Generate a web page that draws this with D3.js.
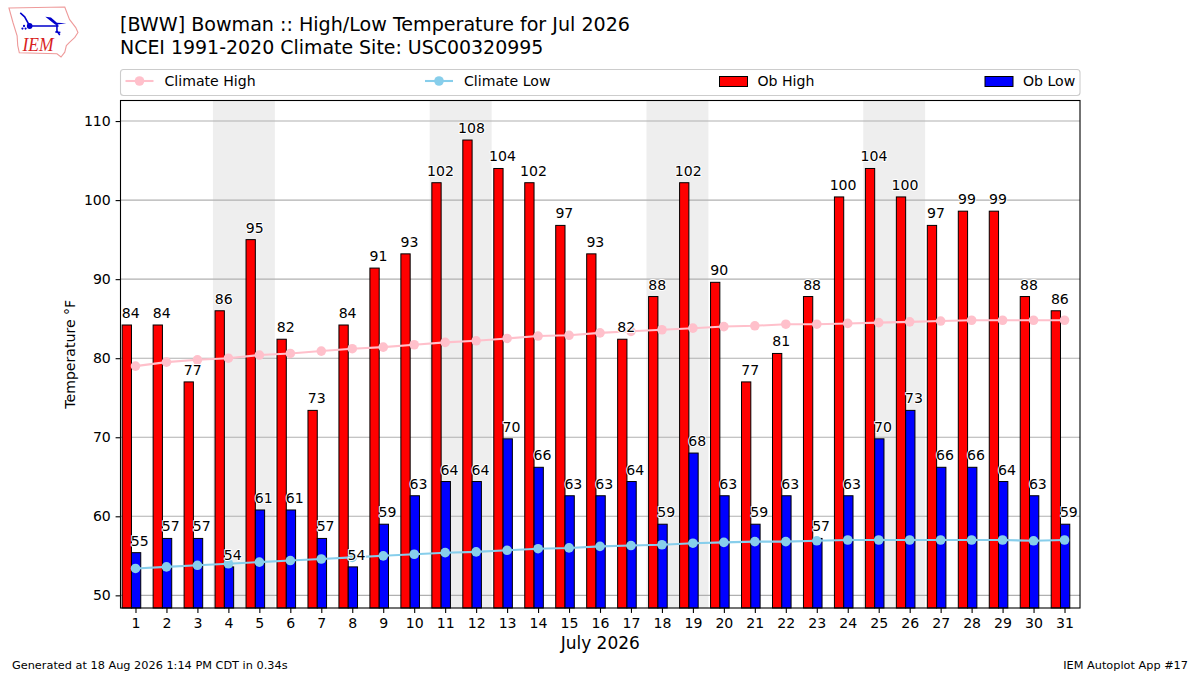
<!DOCTYPE html>
<html>
<head>
<meta charset="utf-8">
<script src="https://cdn.jsdelivr.net/npm/d3@7"></script>
<style>
    html, body { margin: 0; padding: 0; background: #fff; }
    svg { display: block; }
    text { font-family: "DejaVu Sans", sans-serif; fill: #000; }
    .tick text { font-size: 14.1px; }
    .bar-label { font-size: 14.1px; text-anchor: middle; paint-order: stroke; stroke: #fff; stroke-width: 2px; stroke-linejoin: round; }
</style>
</head>
<body>
<div id="chart"></div>
<script>
var days = d3.range(1, 32);
var weekends = [4, 5, 11, 12, 18, 19, 25, 26];
var obHigh = [84.2, 84.2, 77, 86, 95, 82.4, 73.4, 84.2, 91.4, 93.2, 102.2, 107.6, 104, 102.2, 96.8, 93.2,
    82.4, 87.8, 102.2, 89.6, 77, 80.6, 87.8, 100.4, 104, 100.4, 96.8, 98.6, 98.6, 87.8, 86];
var obLow = [55.4, 57.2, 57.2, 53.6, 60.8, 60.8, 57.2, 53.6, 59, 62.6, 64.4, 64.4, 69.8, 66.2, 62.6, 62.6,
    64.4, 59, 68, 62.6, 59, 62.6, 57.2, 62.6, 69.8, 73.4, 66.2, 66.2, 64.4, 62.6, 59];
var climateHigh = [79.0, 79.5, 79.8, 80.0, 80.4, 80.6, 80.9, 81.2, 81.4, 81.7, 82.0, 82.2, 82.5, 82.8, 82.9, 83.2,
    83.4, 83.6, 83.8, 84.0, 84.1, 84.3, 84.3, 84.4, 84.5, 84.6, 84.7, 84.8, 84.8, 84.8, 84.8];
var climateLow = [53.4, 53.6, 53.8, 54.0, 54.2, 54.4, 54.6, 54.8, 55.0, 55.2, 55.4, 55.5, 55.7, 55.9, 56.0, 56.2,
    56.3, 56.4, 56.6, 56.7, 56.8, 56.8, 56.9, 57.0, 57.0, 57.0, 57.0, 57.0, 57.0, 56.9, 57.0];
var yTicks = [50, 60, 70, 80, 90, 100, 110];

var width = 1200, height = 675;
var plot = { left: 120.5, right: 1080, top: 100.5, bottom: 608 };
var barWidth = 0.3;

var svg = d3.select('#chart').append('svg')
    .attr('width', width)
    .attr('height', height);

var x = d3.scaleLinear().domain([0.5, 31.5]).range([120, 1080]);
var y = d3.scaleLinear().domain([48.4, 112.6]).range([plot.bottom, plot.top]);

// titles
svg.append('text').attr('x', 120).attr('y', 31).style('font-size', '19.1px')
    .text('[BWW] Bowman :: High/Low Temperature for Jul 2026');
svg.append('text').attr('x', 120).attr('y', 54).style('font-size', '18.95px')
    .text('NCEI 1991-2020 Climate Site: USC00320995');

// weekend shading
svg.append('g').selectAll('rect')
    .data(weekends.filter(function (d, i) { return i % 2 === 0; }))
    .enter().append('rect')
    .attr('x', function (d) { return x(d - 0.5); })
    .attr('width', function (d) { return x(d + 1.5) - x(d - 0.5); })
    .attr('y', plot.top)
    .attr('height', plot.bottom - plot.top)
    .attr('fill', '#eeeeee');

// grid
svg.append('g').selectAll('line')
    .data(yTicks)
    .enter().append('line')
    .attr('x1', plot.left).attr('x2', plot.right)
    .attr('y1', function (d) { return y(d); })
    .attr('y2', function (d) { return y(d); })
    .attr('stroke', '#b0b0b0')
    .attr('stroke-width', 1.1);

// bars
function drawBars(values, offset, color) {
    svg.append('g').selectAll('rect')
        .data(values)
        .enter().append('rect')
        .attr('x', function (d, i) { return x(days[i] + offset); })
        .attr('width', x(barWidth) - x(0))
        .attr('y', function (d) { return y(d); })
        .attr('height', function (d) { return plot.bottom - y(d); })
        .attr('fill', color)
        .attr('stroke', '#000')
        .attr('stroke-width', 1);
}
drawBars(obHigh, -0.43, '#ff0000');
drawBars(obLow, -0.13, '#0000ff');

// climatology lines
function drawLine(values, color) {
    var line = d3.line()
        .x(function (d, i) { return x(days[i]); })
        .y(function (d) { return y(d); });
    svg.append('path')
        .attr('d', line(values))
        .attr('fill', 'none')
        .attr('stroke', color)
        .attr('stroke-width', 2.08);
    svg.append('g').selectAll('circle')
        .data(values)
        .enter().append('circle')
        .attr('cx', function (d, i) { return x(days[i]); })
        .attr('cy', function (d) { return y(d); })
        .attr('r', 4.8)
        .attr('fill', color);
}
drawLine(climateHigh, '#ffc0cb');
drawLine(climateLow, '#87ceeb');

// value labels
function drawLabels(values, offset) {
    svg.append('g').selectAll('text')
        .data(values)
        .enter().append('text')
        .attr('class', 'bar-label')
        .attr('x', function (d, i) { return x(days[i] + offset); })
        .attr('y', function (d) { return y(d) - 7; })
        .text(function (d) { return d3.format('.0f')(d); });
}
drawLabels(obHigh, -0.15);
drawLabels(obLow, 0.14);

// axes
var yAxis = d3.axisLeft(y).tickValues(yTicks).tickSize(4.9).tickPadding(4.8);
var xAxis = d3.axisBottom(x).tickValues(days).tickFormat(d3.format('d')).tickSize(4.9).tickPadding(4.8);
svg.append('g').attr('transform', 'translate(' + plot.left + ',0)').call(yAxis)
    .call(function (g) { g.select('.domain').remove(); });
svg.append('g').attr('transform', 'translate(0,' + plot.bottom + ')').call(xAxis)
    .call(function (g) { g.select('.domain').remove(); });
svg.selectAll('.tick line').attr('stroke-width', 1.1);

svg.append('rect')
    .attr('x', plot.left).attr('y', plot.top)
    .attr('width', plot.right - plot.left)
    .attr('height', plot.bottom - plot.top)
    .attr('fill', 'none')
    .attr('stroke', '#000')
    .attr('stroke-width', 1.1);

svg.append('text')
    .attr('transform', 'translate(75,' + ((plot.top + plot.bottom) / 2) + ') rotate(-90)')
    .attr('text-anchor', 'middle')
    .style('font-size', '14.1px')
    .text('Temperature °F');
svg.append('text')
    .attr('x', (plot.left + plot.right) / 2)
    .attr('y', 649)
    .attr('text-anchor', 'middle')
    .style('font-size', '17px')
    .text('July 2026');

// legend
var legend = svg.append('g');
legend.append('rect')
    .attr('x', 120.5).attr('y', 69.5)
    .attr('width', 959.5).attr('height', 26)
    .attr('rx', 3)
    .attr('fill', '#fff')
    .attr('stroke', '#cccccc')
    .attr('stroke-width', 1.1);

function legendLine(x0, label, color) {
    legend.append('line')
        .attr('x1', x0).attr('x2', x0 + 28)
        .attr('y1', 81).attr('y2', 81)
        .attr('stroke', color).attr('stroke-width', 2.08);
    legend.append('circle')
        .attr('cx', x0 + 14).attr('cy', 81).attr('r', 4.8).attr('fill', color);
    legend.append('text').attr('x', x0 + 39).attr('y', 86).style('font-size', '14.1px').text(label);
}
function legendBar(x0, label, color) {
    legend.append('rect')
        .attr('x', x0).attr('y', 76.5)
        .attr('width', 28).attr('height', 10)
        .attr('fill', color).attr('stroke', '#000').attr('stroke-width', 1);
    legend.append('text').attr('x', x0 + 38).attr('y', 86).style('font-size', '14.1px').text(label);
}
legendLine(125.5, 'Climate High', '#ffc0cb');
legendLine(425, 'Climate Low', '#87ceeb');
legendBar(719.5, 'Ob High', '#ff0000');
legendBar(985, 'Ob Low', '#0000ff');

// footer
svg.append('text').attr('x', 12).attr('y', 669).style('font-size', '11.3px')
    .text('Generated at 18 Aug 2026 1:14 PM CDT in 0.34s');
svg.append('text').attr('x', 1188).attr('y', 669).attr('text-anchor', 'end').style('font-size', '11.3px')
    .text('IEM Autoplot App #17');

// IEM logo, drawn in the units of the crop it was read from
var logo = svg.append('g').attr('transform', 'translate(5.2,3.1) scale(0.3136,0.327)');
logo.append('path')
    .attr('d', 'M12,15 L190,12 L195,25 L205,50 L225,75 L232,90 L222,105 L205,120 L195,130 L190,150 L178,165 L165,155 L45,152 L40,130 L38,100 L25,60 Z')
    .attr('fill', '#fff')
    .attr('stroke', '#ee9a9a')
    .attr('stroke-width', 3.5);
logo.append('path')
    .attr('d', 'M78,70 L170,70 M48,30 L62,42 L78,70 M165,64 L165,85 L174,98 M160,88 L176,90')
    .attr('fill', 'none')
    .attr('stroke', '#0000cc')
    .attr('stroke-width', 5);
logo.append('path')
    .attr('d', 'M128,42 L146,44 L165,60 L195,62 L160,66 Z')
    .attr('fill', '#0000cc');
logo.append('circle').attr('cx', 78).attr('cy', 70).attr('r', 9).attr('fill', '#0000cc');
logo.selectAll('circle.drop')
    .data([[60, 70], [55, 78], [65, 78]])
    .enter().append('circle')
    .attr('class', 'drop')
    .attr('cx', function (d) { return d[0]; })
    .attr('cy', function (d) { return d[1]; })
    .attr('r', 3.5)
    .attr('fill', '#0000cc');
logo.append('text')
    .attr('x', 55).attr('y', 146)
    .style('font-family', '"Liberation Serif", serif')
    .style('font-style', 'italic')
    .style('font-size', '56px')
    .style('fill', '#d81e1e')
    .text('IEM');
</script>
</body>
</html>
